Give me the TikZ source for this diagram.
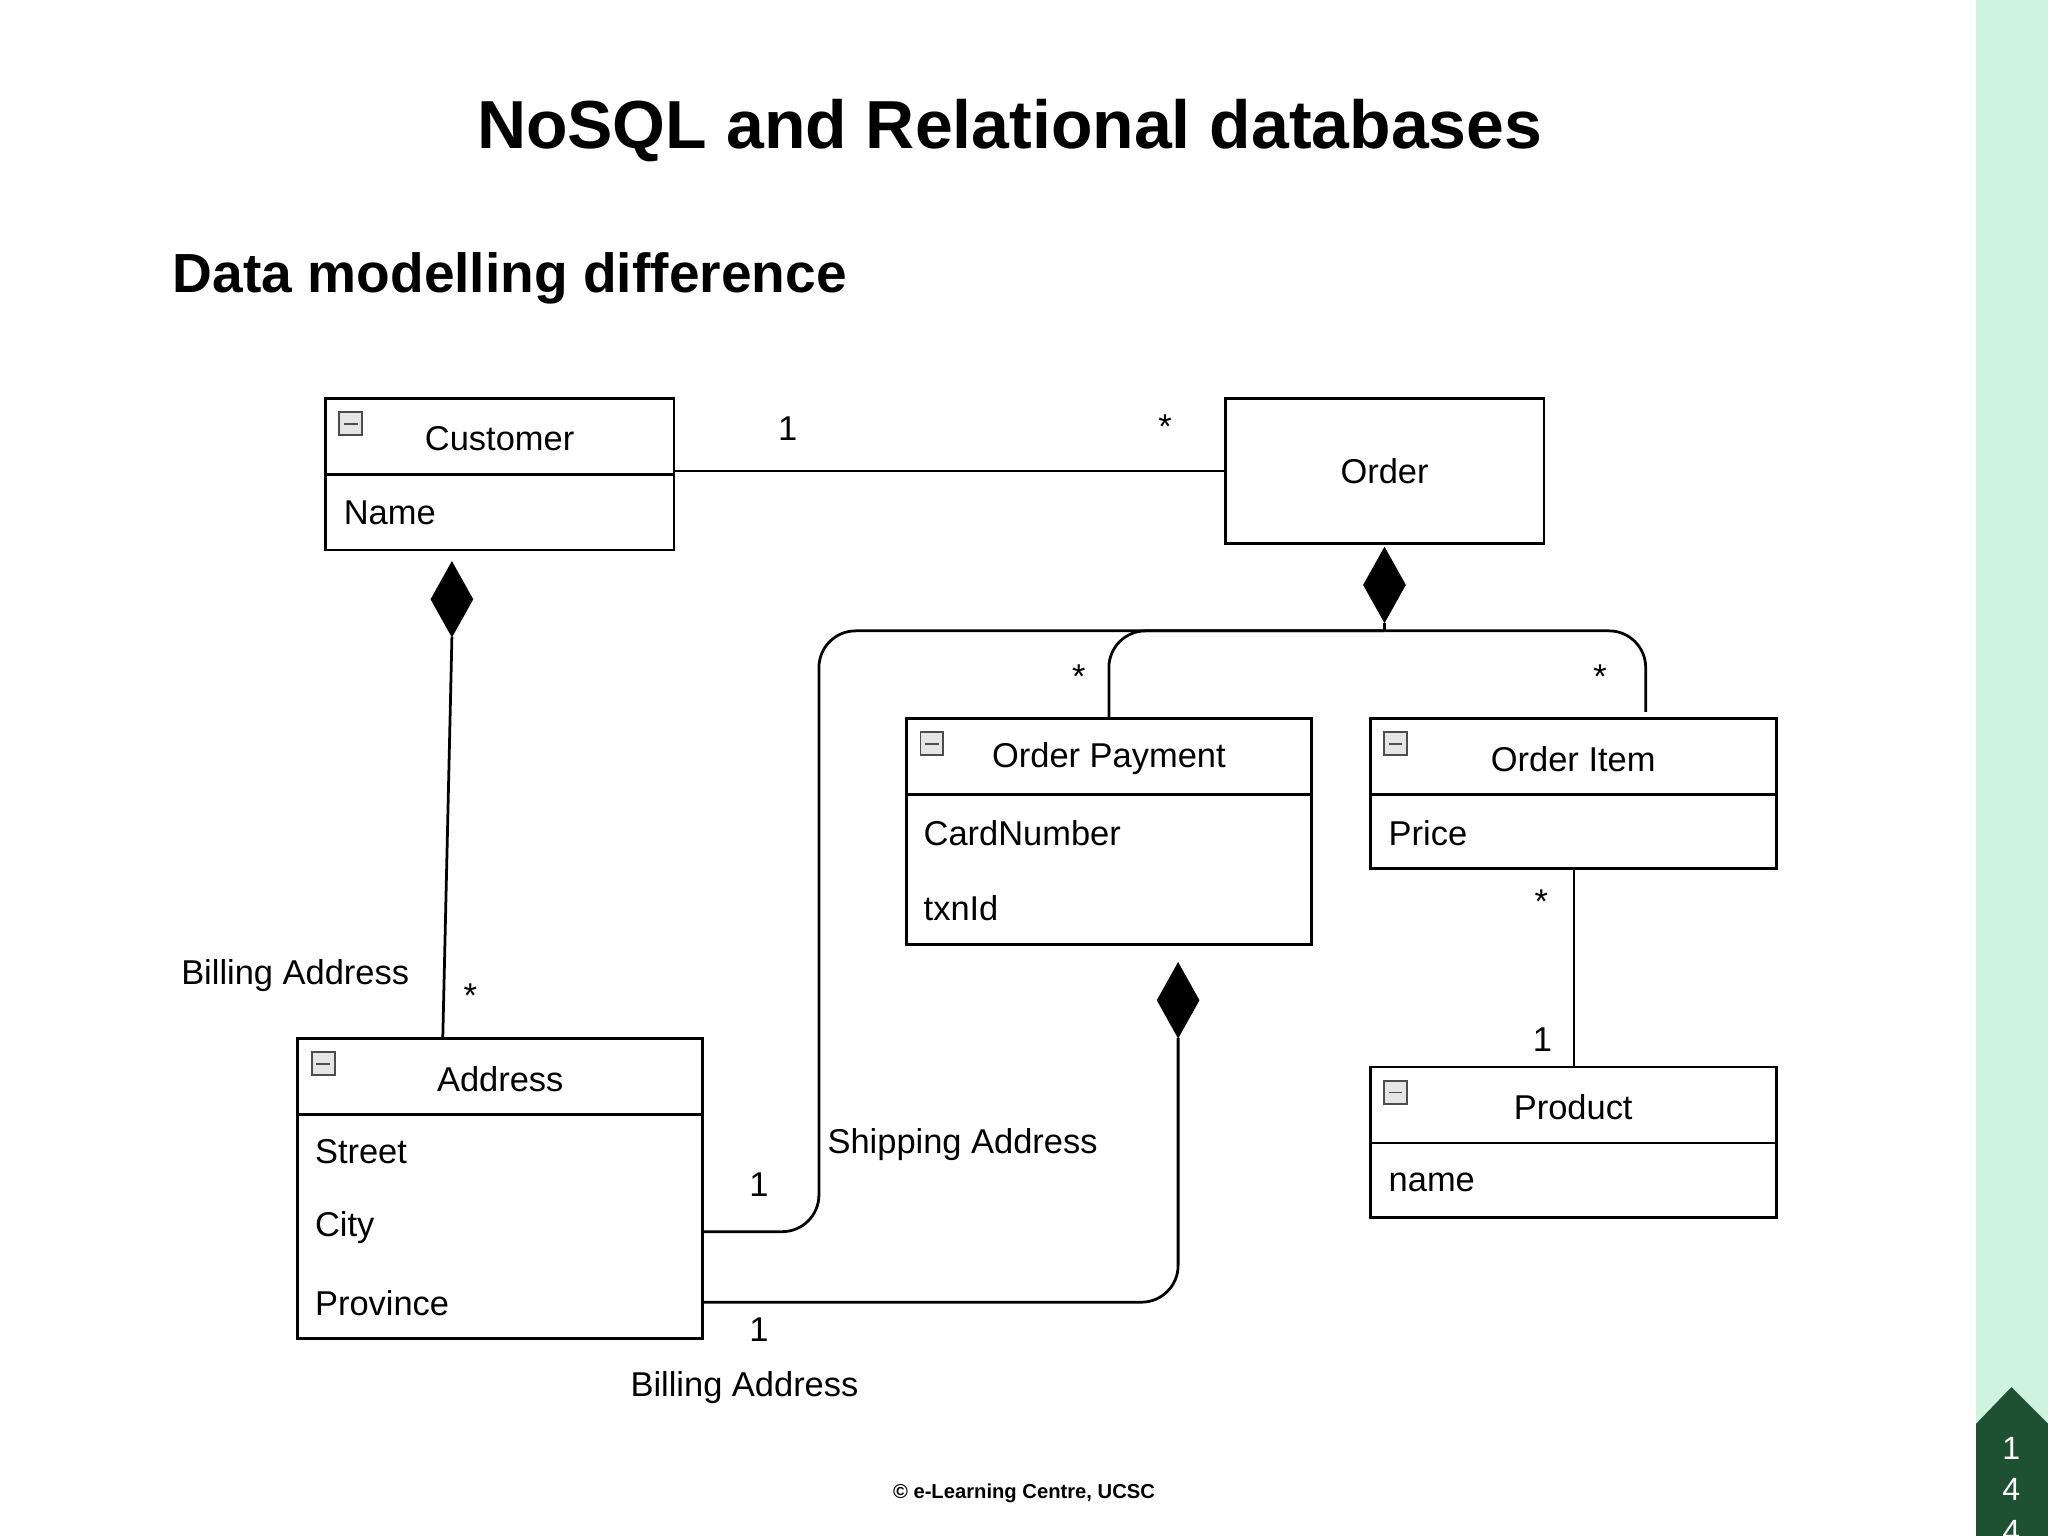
\documentclass[tikz,border=0pt]{standalone}
\usepackage{fontspec}
\setmainfont{Liberation Sans}
\usetikzlibrary{shapes.geometric,calc}
\definecolor{strip}{RGB}{206,243,222}
\definecolor{badge}{RGB}{30,80,50}
\tikzset{
	box/.style={
		rectangle,
		draw=black,
		semithick,
		anchor=north west,
		inner sep=0pt,
		outer sep=0pt
	},
	txt/.style={
		font=\fontsize{7.5}{8}\selectfont,
		inner sep=1pt
	},
	attr/.style={
		txt,
		anchor=west
	},
	dia/.style={
		diamond,
		fill=black,
		draw=black,
		minimum width=9pt,
		minimum height=16pt,
		inner sep=0pt
	},
	conn/.style={
		semithick,
		rounded corners=8pt
	},
	minus/.style={
		rectangle,
		draw=black!70,
		fill=black!10,
		minimum size=5pt,
		inner sep=0pt,
		anchor=north west,
		path picture={\draw (path picture bounding box.west) ++(1pt,0) -- ++(3pt,0);}
	}
}
\newcommand*{\umlbox}[6]{% name, x, y, width, title, attribute height
	\node (#1h) [box,minimum width=#4*0.01cm,minimum height=0.58cm] at (#2,#3) {};
	\node (#1) [txt] at ($(#1h.center)+(0,2)$) {#5};
	\node [minus] at ($(#1h.north west)+(10,10)$) {};
	\node (#1b) [box,minimum width=#4*0.01cm,minimum height=#6*0.01cm] at (#1h.south west) {};
}
\begin{document}
\begin{tikzpicture}[x=0.01cm,y=-0.01cm]
	\useasboundingbox (0,0) rectangle (1568,1176);
	% side strip and page badge
	\fill[strip] (1513,0) rectangle (1568,1176);
	\fill[badge] (1513,1090) -- (1540,1062) -- (1568,1090) -- (1568,1176) -- (1513,1176) -- cycle;
	\node (pg) [text=white,font=\fontsize{7}{9}\selectfont,align=center,anchor=north] at (1540,1088) {1\\4\\4};
	% headings
	\node (title) [font=\bfseries\fontsize{14.8}{18}\selectfont] at (773,100) {NoSQL and Relational databases};
	\node (sub) [font=\bfseries\fontsize{12}{14}\selectfont,anchor=west] at (120,213) {Data modelling difference};
	\node (foot) [font=\bfseries\fontsize{4.4}{5}\selectfont] at (784,1143) {© e-Learning Centre, UCSC};
	% classes
	\umlbox{cust}{249}{305}{267}{Customer}{58}
	\node [attr] at (259,393) {Name};
	\node (order) [box,minimum width=2.44cm,minimum height=1.11cm] at (938,305) {};
	\node (ordt) [txt] at (order.center) {Order};
	\umlbox{pay}{694}{550}{310}{Order Payment}{115}
	\node [attr] at (703,638) {CardNumber};
	\node [attr] at (703,695) {txnId};
	\umlbox{item}{1049}{550}{311}{Order Item}{57}
	\node [attr] at (1059,638) {Price};
	\umlbox{addr}{228}{795}{310}{Address}{172}
	\node [attr] at (237,882) {Street};
	\node [attr] at (237,940) {City};
	\node [attr] at (237,998) {Province};
	\umlbox{prod}{1049}{817}{311}{Product}{57}
	\node [attr] at (1059,905) {name};
	% composition diamonds
	\node (cdia) [dia,anchor=north] at (346,430) {};
	\node (odia) [dia,anchor=north] at (1060,419) {};
	\node (pdia) [dia,anchor=north] at (902,737) {};
	\coordinate (j) at (1060,483);
	\coordinate (itop) at (1260,545);
	\coordinate (ship) at (538,943);
	\coordinate (bill) at (538,997);
	% connectors
	\draw[semithick] (custh.east |- order.west) -- (order.west);
	\draw[semithick] (cdia.south) -- (339,795);
	\draw[semithick] (odia.south) -- (j);
	\draw[conn] (j) -| (payh.north -| 849,0);
	\draw[conn] (j) -| (itop);
	\draw[conn] (j) -| (627,943) -- (ship);
	\draw[conn] (pdia.south) |- (bill);
	\draw[semithick] (itemb.south -| 1205,0) -- (prodh.north -| 1205,0);
	% multiplicities and roles
	\node (m1) [txt] at (603,328) {1};
	\node (m2) [txt] at (892,327) {*};
	\node (r1) [txt] at (226,747) {Billing Address};
	\node (m3) [txt] at (360,762) {*};
	\node (m4) [txt] at (826,518) {*};
	\node (m5) [txt] at (1225,518) {*};
	\node (m6) [txt] at (581,907) {1};
	\node (r2) [txt] at (737,876) {Shipping Address};
	\node (m7) [txt] at (581,1018) {1};
	\node (r3) [txt] at (570,1062) {Billing Address};
	\node (m8) [txt] at (1180,690) {*};
	\node (m9) [txt] at (1181,796) {1};
\end{tikzpicture}
\end{document}
